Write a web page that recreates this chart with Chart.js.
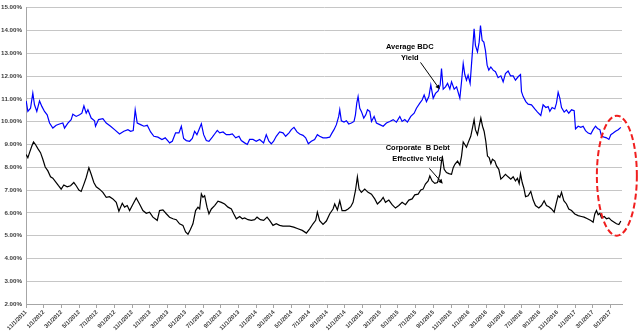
<!DOCTYPE html>
<html>
<head>
<meta charset="utf-8">
<script src="https://cdn.jsdelivr.net/npm/chart.js@4.4.0/dist/chart.umd.min.js"></script>
<style>
  html, body { margin: 0; padding: 0; background: #fff; }
  #wrap { width: 640px; height: 334px; position: relative; }
</style>
</head>
<body>
<div id="wrap"><canvas id="yieldChart"></canvas></div>
<script>
// months since 11/1/2011 for each reading
const bdcMonths = [
  0.02, 0.21, 0.51, 0.77, 0.96, 1.22, 1.53, 1.79, 2.09, 2.39, 2.66, 3.03, 3.41, 3.78, 4.16, 4.35, 4.73, 5.10, 5.29, 5.67,
  6.05, 6.31, 6.54, 6.80, 6.99, 7.36, 7.74, 7.85, 8.19, 8.68, 9.06, 9.55, 10.00, 10.56, 11.05, 11.51, 11.81, 12.11, 12.33, 12.56,
  12.94, 13.31, 13.69, 14.07, 14.44, 14.90, 15.35, 15.72, 16.10, 16.21, 16.52, 16.89, 17.27, 17.54, 17.80, 18.10, 18.48, 18.78, 19.04, 19.30,
  19.53, 19.80, 20.06, 20.36, 20.66, 21.04, 21.30, 21.60, 21.87, 22.25, 22.62, 23.00, 23.30, 23.68, 24.05, 24.31, 24.69, 24.99, 25.25, 25.63,
  26.00, 26.38, 26.83, 27.13, 27.43, 27.70, 27.96, 28.26, 28.64, 29.02, 29.32, 29.70, 29.96, 30.26, 30.60, 30.90, 31.28, 31.58, 31.88, 32.22,
  32.59, 32.90, 33.16, 33.54, 33.92, 34.29, 34.56, 34.78, 35.05, 35.31, 35.43, 35.61, 35.91, 36.18, 36.44, 36.74, 37.04, 37.20, 37.35, 37.50,
  37.69, 37.87, 38.14, 38.37, 38.56, 38.82, 39.01, 39.31, 39.57, 39.95, 40.33, 40.70, 41.08, 41.46, 41.83, 42.21, 42.47, 42.77, 43.07, 43.45,
  43.83, 44.09, 44.47, 44.73, 44.96, 45.22, 45.49, 45.71, 45.98, 46.24, 46.54, 46.77, 46.92, 47.11, 47.37, 47.60, 47.86, 48.05, 48.35, 48.62,
  48.99, 49.18, 49.37, 49.55, 49.74, 49.92, 50.15, 50.30, 50.49, 50.60, 50.75, 50.98, 51.17, 51.32, 51.51, 51.70, 51.88, 52.07, 52.26, 52.49,
  52.75, 53.01, 53.31, 53.62, 53.88, 54.14, 54.44, 54.71, 55.01, 55.27, 55.57, 55.84, 55.95, 56.14, 56.44, 56.70, 57.08, 57.45, 57.76, 58.13,
  58.39, 58.70, 58.96, 59.15, 59.41, 59.71, 59.90, 60.09, 60.28, 60.47, 60.77, 61.03, 61.29, 61.60, 61.90, 62.05, 62.35, 62.65, 62.91, 63.18,
  63.48, 63.78, 64.04, 64.31, 64.53, 64.80, 64.99, 65.29, 65.55, 65.82, 66.04, 66.31, 66.57, 66.87, 67.17
];
const bdcYield = [
  10.91, 10.45, 10.59, 11.25, 10.74, 10.45, 10.91, 10.67, 10.45, 10.30, 9.94, 9.72, 9.84, 9.90, 9.94, 9.72, 9.94, 10.09, 10.33, 10.23,
  10.30, 10.37, 10.69, 10.37, 10.52, 10.16, 10.04, 9.80, 10.09, 10.13, 9.94, 9.80, 9.65, 9.46, 9.58, 9.65, 9.58, 9.61, 10.52, 9.94,
  9.87, 9.80, 9.84, 9.55, 9.36, 9.32, 9.22, 9.29, 9.12, 9.07, 9.14, 9.51, 9.51, 9.80, 9.26, 9.17, 9.14, 9.26, 9.58, 9.43,
  9.65, 9.91, 9.43, 9.17, 9.14, 9.32, 9.46, 9.62, 9.51, 9.55, 9.43, 9.43, 9.46, 9.29, 9.36, 9.17, 9.07, 9.00, 9.22, 9.22,
  9.14, 9.22, 9.07, 9.43, 9.14, 9.03, 9.14, 9.36, 9.55, 9.51, 9.36, 9.51, 9.65, 9.75, 9.55, 9.46, 9.40, 9.29, 9.03, 9.14,
  9.22, 9.43, 9.36, 9.29, 9.29, 9.32, 9.51, 9.65, 9.87, 10.23, 10.52, 10.04, 9.98, 10.04, 9.90, 9.94, 10.01, 10.30, 10.81, 11.10,
  10.59, 10.45, 10.16, 10.30, 10.52, 10.45, 10.01, 10.23, 9.94, 9.87, 9.80, 9.94, 10.01, 10.09, 9.98, 10.23, 10.01, 10.09, 9.98, 10.23,
  10.37, 10.59, 10.81, 10.95, 11.17, 10.88, 11.10, 11.61, 11.03, 11.24, 11.35, 11.61, 12.33, 11.43, 11.53, 11.68, 11.43, 11.75, 11.43, 11.53,
  11.03, 11.75, 12.55, 12.07, 11.82, 12.04, 11.68, 12.48, 13.49, 14.07, 13.35, 13.06, 13.49, 14.22, 13.56, 13.49, 13.13, 12.48, 12.26, 12.40,
  12.26, 12.19, 11.93, 12.01, 11.75, 12.11, 12.22, 12.01, 12.01, 11.82, 11.97, 12.07, 11.32, 11.10, 10.88, 10.77, 10.74, 10.56, 10.42, 10.27,
  10.74, 10.62, 10.66, 10.45, 10.62, 10.56, 10.81, 11.29, 11.03, 10.62, 10.42, 10.52, 10.37, 10.52, 10.48, 9.68, 9.80, 9.75, 9.80, 9.61,
  9.50, 9.46, 9.65, 9.80, 9.70, 9.65, 9.36, 9.32, 9.29, 9.22, 9.43, 9.50, 9.58, 9.65, 9.75
];

const hyMonths = [
  0.02, 0.21, 0.40, 0.66, 0.85, 1.07, 1.34, 1.64, 1.90, 2.17, 2.47, 2.77, 3.03, 3.41, 3.67, 3.97, 4.27, 4.65, 5.03, 5.40,
  5.67, 5.97, 6.23, 6.54, 6.80, 7.10, 7.36, 7.66, 7.93, 8.30, 8.68, 9.06, 9.43, 9.81, 10.19, 10.49, 10.87, 11.13, 11.43, 11.70,
  12.00, 12.45, 12.82, 13.20, 13.58, 13.95, 14.33, 14.82, 15.08, 15.46, 15.84, 16.21, 16.59, 16.97, 17.34, 17.72, 18.02, 18.29, 18.55, 18.85,
  19.15, 19.42, 19.61, 19.80, 19.98, 20.17, 20.44, 20.66, 20.93, 21.30, 21.68, 22.06, 22.43, 22.81, 23.19, 23.45, 23.75, 24.13, 24.43, 24.69,
  25.07, 25.44, 25.82, 26.09, 26.46, 26.84, 27.22, 27.51, 27.89, 28.26, 28.64, 29.02, 29.40, 29.77, 30.23, 30.71, 31.20, 31.66, 32.03, 32.41,
  32.71, 32.90, 33.16, 33.54, 33.92, 34.29, 34.67, 34.86, 35.16, 35.43, 35.69, 36.07, 36.37, 36.67, 36.93, 37.20, 37.42, 37.61, 37.87, 38.25,
  38.63, 39.01, 39.38, 39.68, 40.06, 40.33, 40.59, 40.97, 41.34, 41.72, 42.10, 42.47, 42.85, 43.23, 43.60, 43.90, 44.28, 44.58, 44.84, 45.10,
  45.41, 45.60, 45.86, 46.16, 46.46, 46.73, 46.92, 47.03, 47.22, 47.48, 47.75, 48.05, 48.24, 48.43, 48.73, 48.99, 49.18, 49.37, 49.55, 49.74,
  49.92, 50.22, 50.49, 50.60, 50.75, 50.98, 51.17, 51.36, 51.55, 51.73, 51.92, 52.11, 52.30, 52.49, 52.67, 52.94, 53.13, 53.39, 53.62, 53.88,
  54.14, 54.44, 54.74, 55.01, 55.27, 55.50, 55.69, 55.84, 56.03, 56.22, 56.41, 56.70, 57.00, 57.27, 57.53, 57.91, 58.21, 58.51, 58.77, 59.04,
  59.34, 59.64, 59.90, 60.09, 60.28, 60.47, 60.73, 61.03, 61.29, 61.60, 61.97, 62.35, 62.72, 63.02, 63.40, 63.78, 64.04, 64.23, 64.42, 64.61,
  64.80, 64.99, 65.29, 65.55, 65.82, 66.12, 66.42, 66.68, 66.95, 67.17
];
const hyYield = [
  8.56, 8.42, 8.64, 8.93, 9.11, 9.00, 8.82, 8.64, 8.35, 8.01, 7.84, 7.58, 7.52, 7.33, 7.19, 7.04, 7.22, 7.14, 7.19, 7.33,
  7.19, 7.00, 6.94, 7.26, 7.55, 7.98, 7.69, 7.33, 7.14, 7.04, 6.90, 6.68, 6.71, 6.61, 6.46, 6.07, 6.42, 6.25, 6.32, 6.10,
  6.32, 6.65, 6.39, 6.10, 5.98, 6.03, 5.81, 5.67, 6.10, 6.13, 5.96, 5.81, 5.74, 5.70, 5.52, 5.45, 5.16, 5.06, 5.26, 5.52,
  6.10, 6.25, 6.17, 6.83, 6.68, 6.75, 6.25, 5.96, 6.17, 6.32, 6.51, 6.46, 6.39, 6.25, 6.17, 5.96, 5.74, 5.84, 5.74, 5.78,
  5.70, 5.67, 5.70, 5.81, 5.70, 5.67, 5.81, 5.67, 5.45, 5.52, 5.45, 5.42, 5.42, 5.42, 5.37, 5.30, 5.23, 5.11, 5.30, 5.52,
  5.67, 6.03, 5.66, 5.49, 5.64, 5.95, 6.17, 6.39, 6.13, 6.53, 6.10, 6.10, 6.17, 6.27, 6.46, 6.97, 7.58, 7.04, 6.90, 7.04,
  6.90, 6.82, 6.61, 6.39, 6.53, 6.68, 6.46, 6.56, 6.36, 6.21, 6.32, 6.46, 6.36, 6.56, 6.61, 6.79, 6.82, 7.00, 7.04, 7.26,
  7.40, 7.62, 7.40, 7.29, 7.33, 7.69, 8.27, 8.42, 7.91, 7.77, 7.72, 7.69, 7.98, 8.13, 8.27, 8.10, 8.49, 9.11, 9.00, 8.88,
  9.07, 9.36, 9.87, 10.09, 9.65, 9.43, 9.80, 10.16, 9.80, 9.58, 9.14, 8.49, 8.42, 8.16, 8.35, 8.27, 8.06, 7.91, 7.48, 7.58,
  7.69, 7.58, 7.48, 7.58, 7.40, 7.52, 7.29, 7.72, 7.33, 7.08, 6.71, 6.75, 6.94, 6.56, 6.32, 6.21, 6.32, 6.53, 6.32, 6.27,
  6.17, 6.03, 6.46, 6.75, 6.68, 6.90, 6.53, 6.39, 6.17, 6.10, 5.95, 5.88, 5.84, 5.81, 5.74, 5.66, 5.59, 5.95, 6.10, 5.92,
  5.98, 5.78, 5.84, 5.74, 5.78, 5.66, 5.59, 5.52, 5.49, 5.64
];

const tickLabels = [
  '11/1/2011', '1/1/2012', '3/1/2012', '5/1/2012', '7/1/2012', '9/1/2012', '11/1/2012',
  '1/1/2013', '3/1/2013', '5/1/2013', '7/1/2013', '9/1/2013', '11/1/2013',
  '1/1/2014', '3/1/2014', '5/1/2014', '7/1/2014', '9/1/2014', '11/1/2014',
  '1/1/2015', '3/1/2015', '5/1/2015', '7/1/2015', '9/1/2015', '11/1/2015',
  '1/1/2016', '3/1/2016', '5/1/2016', '7/1/2016', '9/1/2016', '11/1/2016',
  '1/1/2017', '3/1/2017', '5/1/2017'
];

const toPoints = (xs, ys) => xs.map((m, i) => ({ x: m, y: ys[i] }));

const labelFont = '"Liberation Sans", Arial, sans-serif';

// text callouts, anchored in (month, percent) space
const callouts = [
  { lines: ['Average BDC', 'Yield'], at: [43.33, 13.27], from: [44.55, 12.6], to: [46.72, 11.42] },
  { lines: ['Corporate  B Debt', 'Effective Yield'], at: [44.24, 8.84], from: [45.55, 7.95], to: [47.06, 7.28] }
];

function drawArrow(ctx, x1, y1, x2, y2) {
  const ang = Math.atan2(y2 - y1, x2 - x1);
  const head = 5;
  ctx.beginPath();
  ctx.moveTo(x1, y1);
  ctx.lineTo(x2 - Math.cos(ang) * head * 0.8, y2 - Math.sin(ang) * head * 0.8);
  ctx.stroke();
  ctx.beginPath();
  ctx.moveTo(x2, y2);
  ctx.lineTo(x2 - head * Math.cos(ang - 0.45), y2 - head * Math.sin(ang - 0.45));
  ctx.lineTo(x2 - head * Math.cos(ang + 0.45), y2 - head * Math.sin(ang + 0.45));
  ctx.closePath();
  ctx.fill();
}

const calloutPlugin = {
  id: 'callouts',
  afterDraw(chart) {
    const { ctx } = chart;
    const x = chart.scales.x, y = chart.scales.y;
    ctx.save();
    ctx.fillStyle = '#000';
    ctx.strokeStyle = '#000';
    ctx.lineWidth = 1;
    ctx.font = 'bold 7.5px ' + labelFont;
    ctx.textAlign = 'center';
    ctx.textBaseline = 'middle';
    callouts.forEach(c => {
      const cx = x.getPixelForValue(c.at[0]);
      const cy = y.getPixelForValue(c.at[1]);
      c.lines.forEach((line, i) => ctx.fillText(line, cx, cy + i * 11));
      drawArrow(ctx, x.getPixelForValue(c.from[0]), y.getPixelForValue(c.from[1]),
                x.getPixelForValue(c.to[0]), y.getPixelForValue(c.to[1]));
    });

    // dashed ring around the latest readings
    ctx.beginPath();
    ctx.setLineDash([6, 3]);
    ctx.lineWidth = 2;
    ctx.strokeStyle = '#f01e1e';
    ctx.ellipse(x.getPixelForValue(66.72), y.getPixelForValue(7.63), 20, 60, 0, 0, Math.PI * 2);
    ctx.stroke();
    ctx.restore();
  }
};

new Chart(document.getElementById('yieldChart'), {
  type: 'line',
  data: {
    datasets: [
      {
        label: 'Average BDC Yield',
        data: toPoints(bdcMonths, bdcYield),
        borderColor: '#0000ff',
        borderWidth: 1.2,
        pointRadius: 0,
        tension: 0
      },
      {
        label: 'Corporate B Debt Effective Yield',
        data: toPoints(hyMonths, hyYield),
        borderColor: '#000000',
        borderWidth: 1.2,
        pointRadius: 0,
        tension: 0
      }
    ]
  },
  options: {
    responsive: true,
    maintainAspectRatio: false,
    animation: false,
    layout: { padding: { top: 3, right: 18, left: 0, bottom: 0 } },
    plugins: {
      legend: { display: false },
      tooltip: { enabled: false }
    },
    scales: {
      x: {
        type: 'linear',
        min: 0,
        max: 67.3,
        afterBuildTicks: scale => {
          scale.ticks = tickLabels.map((_, i) => ({ value: i * 2 }));
        },
        afterFit: scale => { scale.height = 30; },
        grid: { drawOnChartArea: false, drawTicks: true, tickLength: 4, color: '#a6a6a6' },
        border: { color: '#a6a6a6' },
        ticks: {
          autoSkip: false,
          maxRotation: 45,
          minRotation: 45,
          padding: 1,
          color: '#3a3a3a',
          font: { family: labelFont, size: 5.8, weight: 'bold' },
          callback: value => tickLabels[Math.round(value / 2)]
        }
      },
      y: {
        min: 2,
        max: 15,
        afterFit: scale => { scale.width = 26; },
        grid: { color: '#c6c6c6', drawTicks: false },
        border: { color: '#a6a6a6' },
        ticks: {
          stepSize: 1,
          padding: 4,
          color: '#3a3a3a',
          font: { family: labelFont, size: 6.2, weight: 'bold' },
          callback: v => v.toFixed(2) + '%'
        }
      }
    }
  },
  plugins: [calloutPlugin]
});
</script>
</body>
</html>
